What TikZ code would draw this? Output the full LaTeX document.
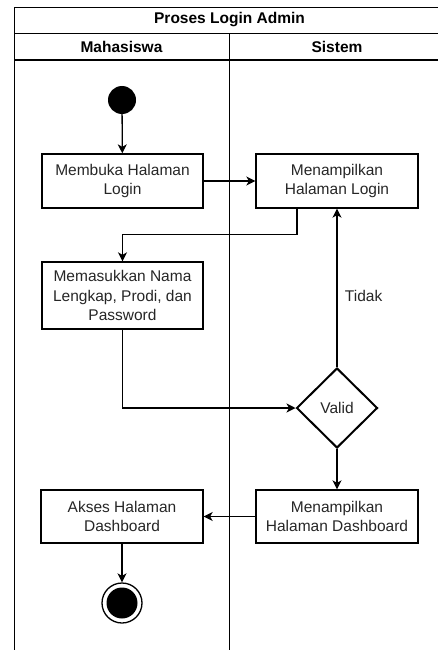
\documentclass[tikz,border=0pt]{standalone}
\usepackage{fontspec}
\setmainfont{Liberation Sans}
\usetikzlibrary{arrows.meta,shapes.geometric,positioning}
\begin{document}
\begin{tikzpicture}[x=1pt,y=-1pt,
  every node/.style={font=\fontsize{15.5}{19.5}\selectfont, text=black!85},
  lane/.style={draw, line width=1.3pt, rectangle, anchor=north west, inner sep=0pt},
  actbox/.style={draw, line width=1.3pt, rectangle, align=center, inner sep=2pt},
  dec/.style={draw, line width=2pt, diamond, inner sep=0pt, minimum width=81pt, minimum height=80pt},
  arr/.style={draw, line width=1.3pt, -{Stealth[length=9pt,width=9pt,inset=2.5pt]}},
  hdr/.style={font=\bfseries\fontsize{15.5}{19}\selectfont, text=black}
]
\useasboundingbox (0,0) rectangle (438,650);
% pool
\node[lane, minimum width=431pt, minimum height=26pt] (pool) at (14,7) {};
\node[hdr] (title) at (229.5,20) {Proses Login Admin};
\node[lane, minimum width=215pt, minimum height=700pt] (lane1) at (14,33) {};
\node[lane, minimum width=216pt, minimum height=700pt] (lane2) at (229,33) {};
\draw[line width=1.3pt] (lane1.west |- 0,60) -- (lane2.east |- 0,60);
\node[hdr] (h1) at (121.5,46.5) {Mahasiswa};
\node[hdr] (h2) at (337,46.5) {Sistem};

% activities
\node[circle, fill=black, minimum size=28pt, inner sep=0pt] (start) at (122,100) {};
\node[actbox, minimum width=161pt, minimum height=54pt] (b1) at (122.5,181) {Membuka Halaman\\Login};
\node[actbox, minimum width=162pt, minimum height=54pt] (b2) at (337,181) {Menampilkan\\Halaman Login};
\node[actbox, minimum width=161pt, minimum height=67pt] (b3) at (122.5,295.5) {Memasukkan Nama\\Lengkap, Prodi, dan\\Password};
\node[dec] (dia) at (337,408) {Valid};
\node[actbox, minimum width=162pt, minimum height=53pt] (b4) at (337,516.5) {Menampilkan\\Halaman Dashboard};
\node[actbox, minimum width=162pt, minimum height=53pt] (b5) at (122,516.5) {Akses Halaman\\Dashboard};
\node[circle, draw, line width=1.3pt, minimum size=40pt, inner sep=0pt] (end) at (122,603) {};
\node[circle, fill=black, minimum size=31pt, inner sep=0pt] (endin) at (end.center) {};

% connectors
\draw[arr] (start) -- (b1);
\draw[arr] (b1) -- (b2);
\draw[arr] ([xshift=-40pt]b2.south) |- ([yshift=27pt]b3.north) -- (b3.north);
\draw[arr] (b3.south) |- (dia.west);
\draw[arr] (dia.north) -- node[pos=0.45, right=4pt] (tidak) {Tidak} (b2.south);
\draw[arr] (dia.south) -- (b4.north);
\draw[arr] (b4.west) -- (b5.east);
\draw[arr] (b5.south) -- (end.north);
\end{tikzpicture}
\end{document}
